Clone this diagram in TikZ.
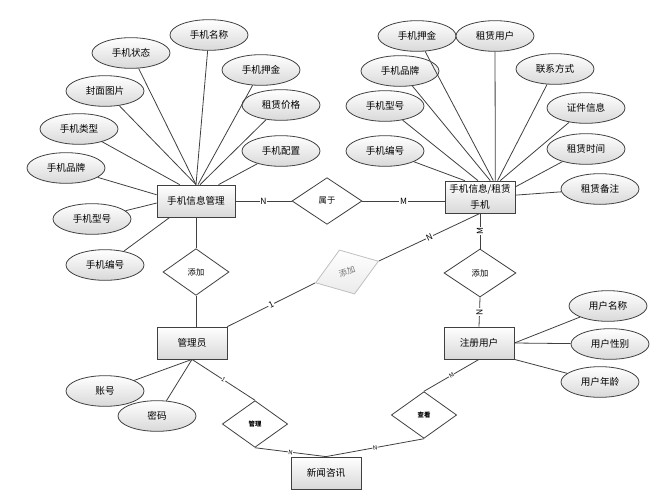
\documentclass[tikz,border=0pt]{standalone}
\usepackage{fontspec}
\setmainfont{Noto Sans CJK SC}
\usetikzlibrary{shapes.geometric}
\tikzset{
  entity/.style={
    rectangle,
    minimum width=52.5pt,
    minimum height=24pt,
    inner sep=1pt,
    align=center,
    draw=black!75,
    top color=white,
    bottom color=black!15,
    font=\fontsize{7.2}{12}\selectfont
    },
  attr/.style={
    ellipse,
    minimum width=58.5pt,
    minimum height=23pt,
    inner sep=0pt,
    draw=black!75,
    top color=white,
    bottom color=black!15,
    font=\fontsize{7.2}{9}\selectfont
    },
  relation/.style={
    diamond,
    minimum width=49.5pt,
    minimum height=35pt,
    inner sep=0pt,
    draw=black!75,
    fill=white,
    font=\fontsize{6.2}{7}\selectfont
    },
  line/.style={draw=black!75, line width=0.6pt},
  card/.style={fill=white, inner sep=0.6pt, font=\fontsize{6.4}{7}\selectfont},
  small card/.style={fill=white, inner sep=0.3pt, sloped, font=\fontsize{4.5}{5}\selectfont},
}

\begin{document}
\begin{tikzpicture}[
    x = 0.75pt, y = -0.75pt, % pixel grid of the sketch
    semithick
  ]
  \useasboundingbox (0,0) rectangle (667,503);

  % entities
  \node[entity, minimum width=58.5pt] (info) at (196,201) {手机信息管理};
  \node[entity] (rent) at (480,197) {手机信息/租赁\\手机};
  \node[entity] (admin) at (192,343) {管理员};
  \node[entity] (user) at (479,343) {注册用户};
  \node[entity] (news) at (326,473) {新闻咨讯};

  % relations
  \node[relation, minimum width=52.5pt] (belong) at (327,201) {属于};
  \node[relation] (addL) at (196,272) {添加};
  \node[relation, minimum width=54pt, minimum height=36pt] (addR) at (480,273) {添加};
  \node[relation, rotate=19, minimum width=50pt, draw=black!25, text=black!55,
        top color=white, bottom color=black!8] (addG) at (347,272) {添加};
  \node[relation, minimum width=49pt, font=\fontsize{4.8}{5}\selectfont\bfseries] (manage) at (255,424) {管理};
  \node[relation, minimum width=49pt, font=\fontsize{4.8}{5}\selectfont\bfseries] (view) at (424,415) {查看};

  % attributes of 手机信息管理
  \node[attr] (ms) at (131,53) {手机状态};
  \node[attr] (mn) at (209,35) {手机名称};
  \node[attr] (md) at (261,70) {手机押金};
  \node[attr] (mp) at (105,91) {封面图片};
  \node[attr] (mr) at (281,105) {租赁价格};
  \node[attr] (mt) at (79,129) {手机类型};
  \node[attr] (mc) at (281,151) {手机配置};
  \node[attr] (mb) at (66,168) {手机品牌};
  \node[attr] (mm) at (92,219) {手机型号};
  \node[attr] (mi) at (105,265) {手机编号};

  % attributes of 手机信息/租赁手机
  \node[attr] (rd) at (417,36) {手机押金};
  \node[attr] (ru) at (495,36) {租赁用户};
  \node[attr] (rb) at (400,71) {手机品牌};
  \node[attr] (rc) at (555,69) {联系方式};
  \node[attr] (rm) at (385,106) {手机型号};
  \node[attr] (rid) at (586,108) {证件信息};
  \node[attr] (ri) at (385,151) {手机编号};
  \node[attr] (rt) at (586,149) {租赁时间};
  \node[attr] (rn) at (600,189) {租赁备注};

  % attributes of 管理员 and 注册用户
  \node[attr] (acc) at (105,391) {账号};
  \node[attr] (pwd) at (157,416) {密码};
  \node[attr] (un) at (608,306) {用户名称};
  \node[attr] (ug) at (610,344) {用户性别};
  \node[attr] (ua) at (600,382) {用户年龄};

  % attribute lines
  \path[line] (ms) edge (info.90)
              (mn) edge (info.90)
              (md) edge (info.83)
              (mp) edge (info.90)
              (mr) edge (info.76)
              (mt) edge (info.135)
              (mc) edge (info.36)
              (mb) edge (info.171)
              (mm) edge (info.183)
              (mi) edge (info.212);
  \path[line] (rd) edge (rent.51)
              (ru) edge (rent.47)
              (rb) edge (rent.58)
              (rc) edge (rent.43)
              (rm) edge (rent.97)
              (rid) edge (rent.39)
              (ri) edge (rent.133)
              (rt) edge (rent.16)
              (rn) edge (rent.3);
  \path[line] (admin.south) edge (acc)
              (admin.south) edge (pwd)
              (user.east) edge (un)
              (user.east) edge (ug)
              (user.south east) edge (ua);

  % relation lines
  \path[line] (info.east) edge node[card] {N} (belong.west);
  \path[line] (belong.east) edge node[card] {M} (belong.east -| rent.west);
  \path[line] (info.south) edge (addL.north);
  \path[line] (addL.south) edge (addL.south |- admin.north);
  \path[line] (admin.north east) edge node[card, sloped] {1} (addG.west);
  \path[line] (addG.east) edge node[card, sloped] {N} (rent.south);
  \path[line] (rent.south) edge node[card, rotate=90] {M} (addR.north);
  \path[line] (addR.south) edge node[card, rotate=90] {N} (user.north);
  \path[line] (admin.south) edge node[small card] {1} (manage.north);
  \path[line] (manage.south) edge node[small card] {N} (news.north);
  \path[line] (news.north) edge node[small card] {N} (view.south);
  \path[line] (view.north) edge node[small card] {M} (user.south);
\end{tikzpicture}
\end{document}
